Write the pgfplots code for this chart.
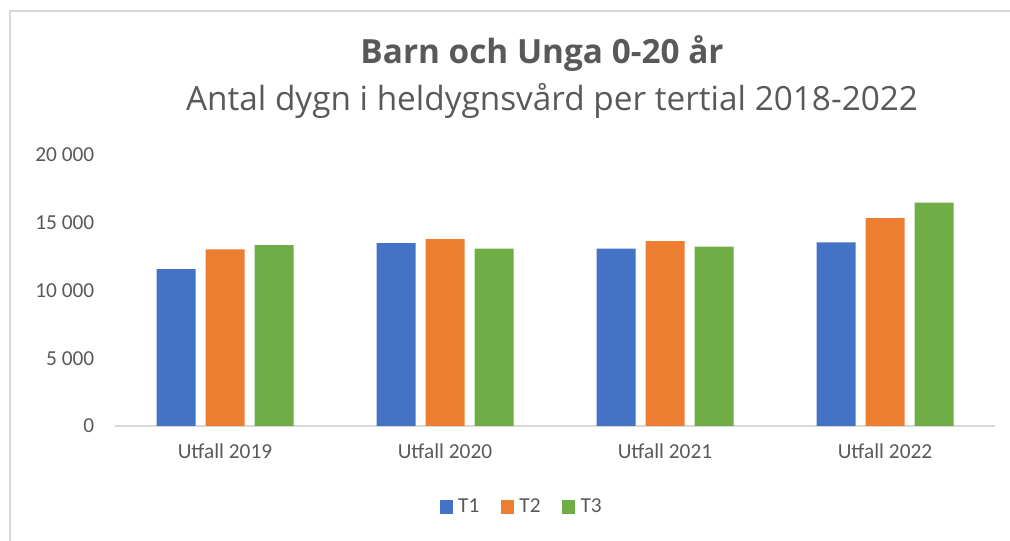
\documentclass[border=0pt]{standalone}
\usepackage{fontspec}
\setmainfont{Carlito}
\newfontfamily\titlefont{Open Sans}
\usepackage{pgfplots}
\pgfplotsset{compat=1.18}
\definecolor{cblue}{HTML}{4472C4}
\definecolor{corange}{HTML}{ED7D31}
\definecolor{cgreen}{HTML}{70AD47}
\definecolor{tgray}{HTML}{595959}
\definecolor{lgray}{HTML}{D9D9D9}

\begin{document}
\begin{tikzpicture}[x=0.75pt,y=0.75pt]
\useasboundingbox (0,0) rectangle (1010,541);
% frame
\draw[lgray, line width=1.5pt] (10,0) -- (10,530) -- (1010,530);
% titles
\node[text=tgray, font=\titlefont\bfseries\fontsize{25}{29}\selectfont] at (542,487) {Barn och Unga 0-20 år};
\node[text=tgray, font=\titlefont\fontsize{25}{29}\selectfont] at (552,440) {Antal dygn i heldygnsvård per tertial 2018-2022};

\begin{axis}[
    at={(86.25pt,86.25pt)}, anchor=south west,
    scale only axis, width=660pt, height=203.25pt,
    ybar=0pt, bar width=29.25pt,
    xmin=-0.5, xmax=3.5, ymin=0, ymax=20000,
    xtick={0,1,2,3},
    xticklabels={Utfall 2019, Utfall 2020, Utfall 2021, Utfall 2022},
    ytick={0,5000,10000,15000,20000},
    yticklabels={0, 5 000, 10 000, 15 000, 20 000},
    scaled y ticks=false,
    major tick length=0pt,
    axis lines=left,
    y axis line style={draw=none},
    x axis line style={draw=lgray, line width=1.5pt, -},
    tick label style={text=tgray, font=\fontsize{16}{18}\selectfont},
    yticklabel style={xshift=-12pt},
    xticklabel style={yshift=-10pt},
    legend style={at={(0.4625,-0.299)}, anchor=center, draw=none,
        font=\fontsize{16}{18}\selectfont, text=tgray,
        /tikz/every even column/.append style={column sep=14pt}},
    legend columns=3,
    legend image code/.code={\fill[#1] (0pt,-4.9pt) rectangle (9.75pt,4.9pt); \path (12pt,0pt);},
    clip=false,
]
\addplot[fill=cblue, draw=none, bar shift=-36.75pt] coordinates {(0,11570) (1,13500) (2,13090) (3,13560)};
\addplot[fill=corange, draw=none, bar shift=0pt] coordinates {(0,13040) (1,13800) (2,13650) (3,15350)};
\addplot[fill=cgreen, draw=none, bar shift=36.75pt] coordinates {(0,13340) (1,13090) (2,13230) (3,16480)};
\legend{T1, T2, T3}
\end{axis}
\end{tikzpicture}
\end{document}
